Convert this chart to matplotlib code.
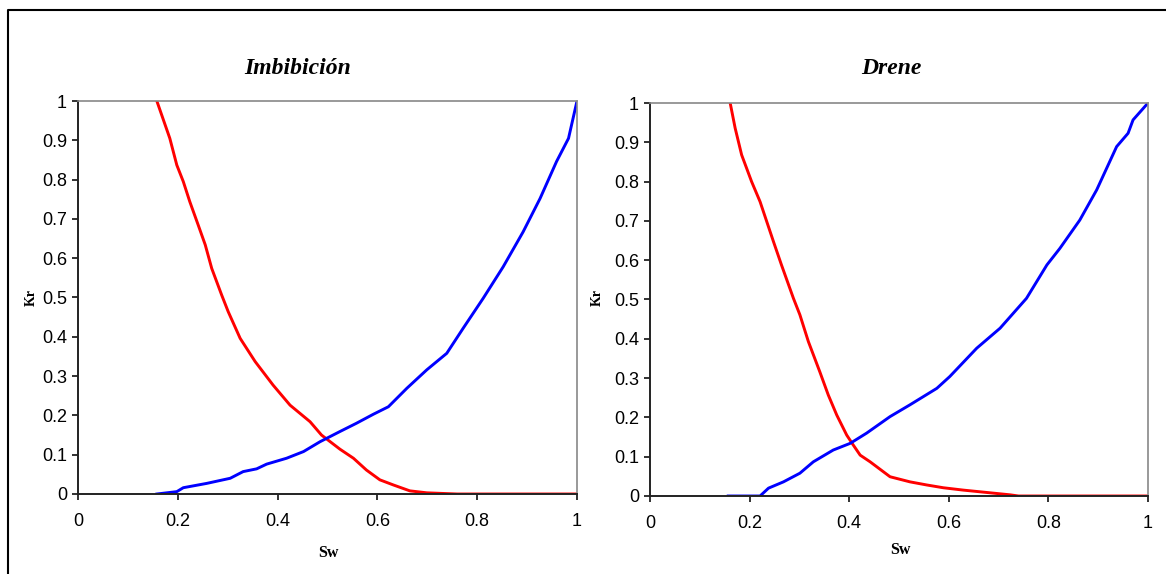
import matplotlib
matplotlib.use("Agg")
import matplotlib.pyplot as plt
from matplotlib.lines import Line2D
from matplotlib.ticker import FormatStrFormatter, MultipleLocator

# ---- data ----
imb_red_sw = [0.158, 0.184, 0.198, 0.211, 0.224, 0.241, 0.255, 0.268, 0.288, 0.301, 0.325,
              0.355, 0.391, 0.425, 0.465, 0.488, 0.525, 0.552, 0.578, 0.605, 0.632, 0.665,
              0.699, 0.739, 0.76, 1.0]
imb_red_kr = [1.0, 0.905, 0.837, 0.795, 0.744, 0.684, 0.634, 0.574, 0.506, 0.464, 0.396,
              0.337, 0.277, 0.226, 0.184, 0.150, 0.114, 0.091, 0.061, 0.036, 0.023, 0.008,
              0.003, 0.001, 0.0, 0.0]
imb_blue_sw = [0.158, 0.198, 0.211, 0.258, 0.305, 0.331, 0.358, 0.378, 0.418, 0.452, 0.485,
               0.525, 0.558, 0.592, 0.622, 0.659, 0.699, 0.739, 0.772, 0.812, 0.852, 0.892,
               0.926, 0.959, 0.983, 1.0]
imb_blue_kr = [0.0, 0.006, 0.016, 0.027, 0.040, 0.057, 0.064, 0.076, 0.091, 0.108, 0.133,
               0.159, 0.180, 0.203, 0.222, 0.269, 0.316, 0.358, 0.422, 0.498, 0.578, 0.667,
               0.752, 0.846, 0.905, 1.0]

dre_red_sw = [0.161, 0.171, 0.184, 0.204, 0.221, 0.248, 0.264, 0.288, 0.301, 0.318, 0.341,
              0.358, 0.375, 0.395, 0.408, 0.422, 0.442, 0.482, 0.522, 0.556, 0.589, 0.629,
              0.676, 0.723, 0.74, 1.0]
dre_red_kr = [1.0, 0.936, 0.868, 0.800, 0.749, 0.647, 0.588, 0.503, 0.461, 0.393, 0.316,
              0.257, 0.206, 0.155, 0.130, 0.104, 0.087, 0.049, 0.036, 0.028, 0.021, 0.015,
              0.009, 0.003, 0.0, 0.0]
dre_blue_sw = [0.157, 0.221, 0.238, 0.268, 0.301, 0.328, 0.368, 0.402, 0.435, 0.482, 0.522,
               0.576, 0.602, 0.656, 0.703, 0.756, 0.797, 0.823, 0.863, 0.897, 0.937, 0.960,
               0.970, 1.0]
dre_blue_kr = [0.0, 0.0, 0.020, 0.036, 0.058, 0.087, 0.117, 0.134, 0.160, 0.202, 0.232,
               0.274, 0.304, 0.376, 0.427, 0.503, 0.588, 0.630, 0.702, 0.779, 0.889, 0.923,
               0.957, 1.0]

titles = ["Imbibición", "Drene"]
x_ticks = [0, 0.2, 0.4, 0.6, 0.8, 1.0]

W, H = 1166, 574
fig = plt.figure(figsize=(W / 100, H / 100), dpi=100)

def fx(px):
    return px / W

def fy(py):
    return 1 - py / H

panels = [
    dict(rect=(78, 101, 577, 494), red=(imb_red_sw, imb_red_kr), blue=(imb_blue_sw, imb_blue_kr),
         title_xy=(298, 68), ylab_xy=(31, 298), xlab_xy=(328, 553)),
    dict(rect=(650, 103, 1148, 496), red=(dre_red_sw, dre_red_kr), blue=(dre_blue_sw, dre_blue_kr),
         title_xy=(891, 68), ylab_xy=(597, 298), xlab_xy=(900, 550)),
]

tick_family = "Liberation Sans"
tick_size = 13

for i, p in enumerate(panels):
    l, t, r, b = p["rect"]
    ax = fig.add_axes([fx(l), fy(b), fx(r) - fx(l), fy(t) - fy(b)])
    ax.plot(*p["red"], color="#FF0000", lw=2.1, solid_joinstyle="round")
    ax.plot(*p["blue"], color="#0000FF", lw=2.1, solid_joinstyle="round")
    ax.set_xlim(0, 1)
    ax.set_ylim(0, 1)
    ax.set_xticks(x_ticks)
    ax.yaxis.set_major_locator(MultipleLocator(0.1))
    ax.xaxis.set_major_formatter(FormatStrFormatter("%g"))
    ax.yaxis.set_major_formatter(FormatStrFormatter("%g"))
    for s in ["left", "bottom"]:
        ax.spines[s].set_color("#222222")
        ax.spines[s].set_linewidth(1.4)
    for s in ["top", "right"]:
        ax.spines[s].set_color("#888888")
        ax.spines[s].set_linewidth(1.2)
    ax.tick_params(axis="both", direction="out", length=4, width=1.3, color="#222222")
    ax.tick_params(axis="x", pad=10)
    ax.tick_params(axis="y", pad=4)
    for lab in ax.get_xticklabels() + ax.get_yticklabels():
        lab.set_fontfamily(tick_family)
        lab.set_fontsize(tick_size)

    tx, ty = p["title_xy"]
    fig.text(fx(tx), fy(ty), titles[i], ha="center", va="center", family="Liberation Serif",
             weight="bold", style="italic", size=17)
    yx, yy = p["ylab_xy"]
    fig.text(fx(yx), fy(yy), "Kr", ha="center", va="center", rotation=90, size=10,
             family="Liberation Serif", weight="bold")
    xx, xy = p["xlab_xy"]
    fig.text(fx(xx), fy(xy), "Sw", ha="center", va="center", size=11.5,
             family="Liberation Serif", weight="bold")

# outer frame (top and left edges visible)
fig.add_artist(Line2D([fx(8), fx(8), 1.01], [-0.01, fy(10), fy(10)], transform=fig.transFigure,
                      color="black", lw=1.5))

fig.savefig("out.png", dpi=100, facecolor="white")
